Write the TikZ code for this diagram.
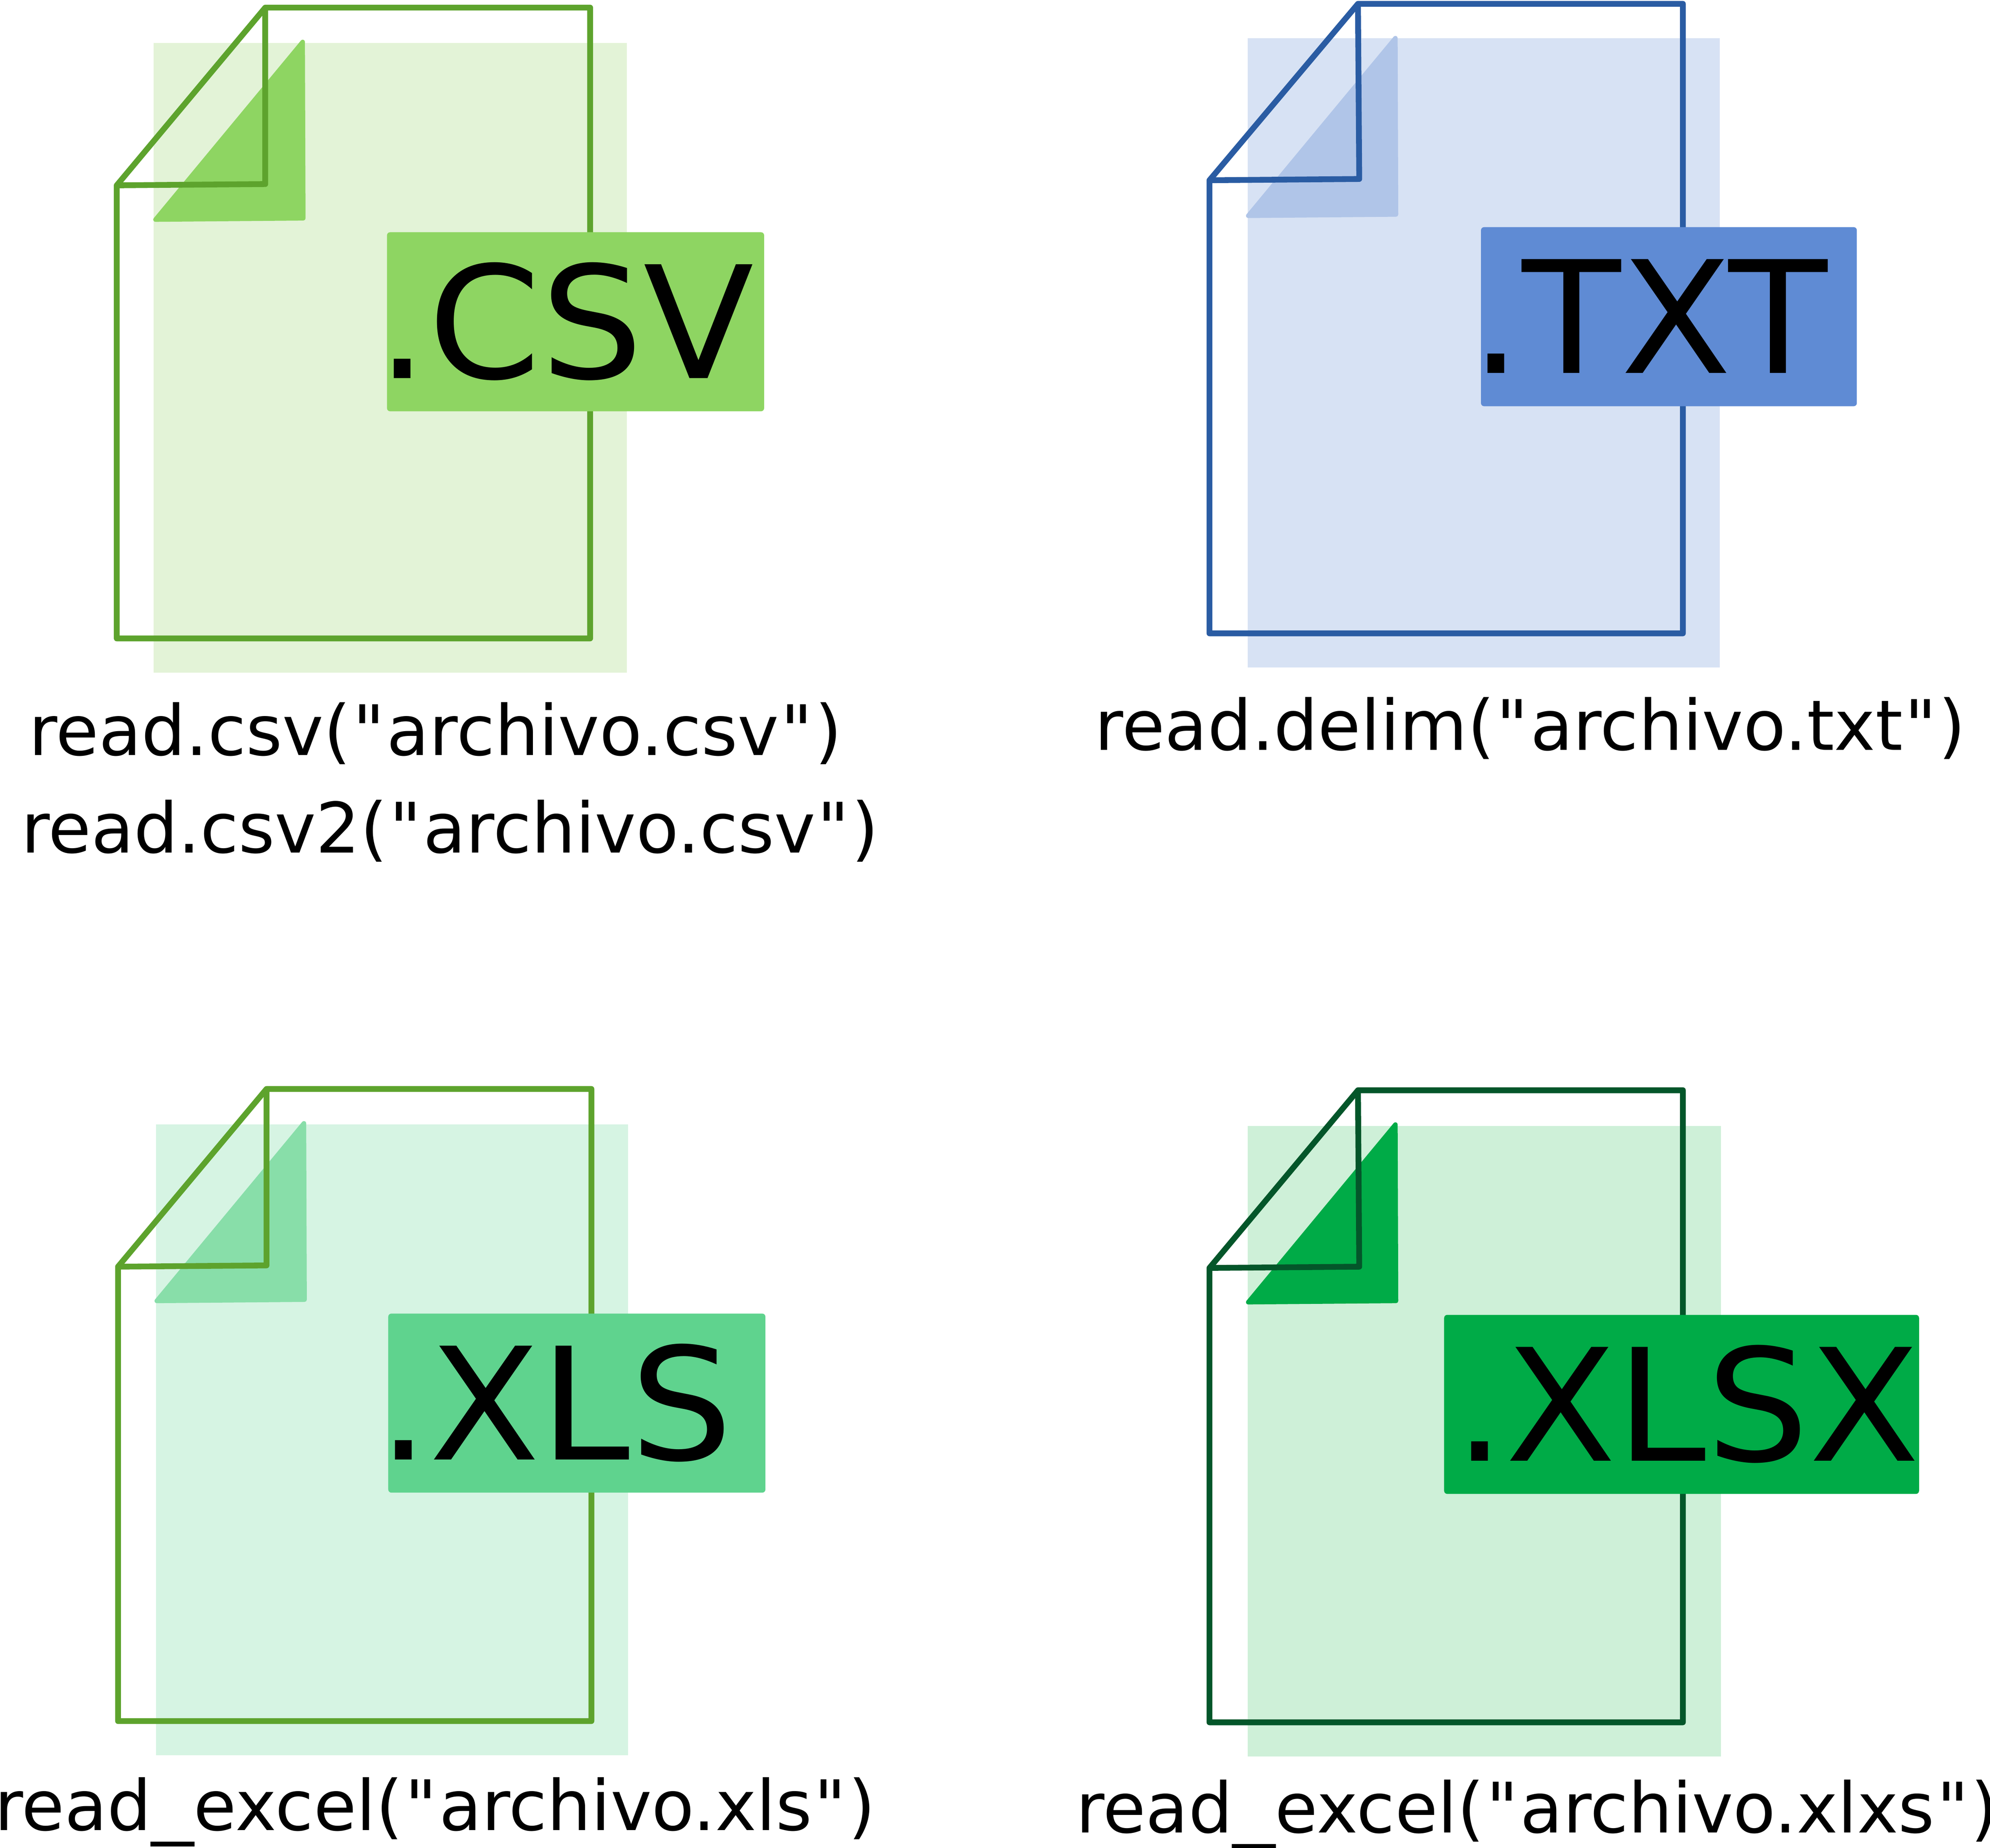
\documentclass[tikz,border=0pt]{standalone}
\usepackage{fontspec}
\setmainfont{DejaVu Sans}[Ligatures=TeXOff]
\newfontfamily\tagfont{DejaVu Sans}[FakeStretch=1.035]
\newcommand{\qmark}{\kern0.45pt"\kern0.45pt}
\newcommand{\wideunder}{\scalebox{1.22}[1]{\_}}
\definecolor{csvline}{HTML}{5DA32D}
\definecolor{csvtag}{HTML}{8ED562}
\definecolor{csvback}{HTML}{E3F3D7}
\definecolor{txtline}{HTML}{2A5CA3}
\definecolor{txttag}{HTML}{5F8BD4}
\definecolor{txtback}{HTML}{D7E2F4}
\definecolor{txtfold}{HTML}{B0C5E8}
\definecolor{xlstag}{HTML}{5FD38E}
\definecolor{xlsback}{HTML}{D6F4E3}
\definecolor{xlsfold}{HTML}{88DEA9}
\definecolor{xlsxline}{HTML}{04562A}
\definecolor{xlsxtag}{HTML}{00AB47}
\definecolor{xlsxback}{HTML}{CEF0D8}
\tikzset{
%%%%%%%%%%  File shapes
file_outline/.style={line width=1.3pt, line join=round, draw=#1},
file_back/.style={fill=#1},
file_fold/.style={fill=#1, draw=#1, line width=1pt, line join=round},
%%%%%%%%%%  Node styles
tag_box/.style={fill=#1, rounded corners=0.7pt, inner sep=0pt, minimum height=1.41cm},
tag_text/.style={anchor=base west, inner sep=0pt, font=\tagfont\fontsize{35}{35}\selectfont},
read_call/.style={anchor=base west, inner sep=0pt, font=\fontsize{15.6}{15.6}\selectfont}
}

\begin{document}
\begin{tikzpicture}[x=0.01cm, y=-0.01cm]
\useasboundingbox (0,0) rectangle (1568,1456);
%% csv
\begin{scope}
  \fill[file_back=csvback] (121,34) rectangle (494,530);
  \filldraw[file_fold=csvtag] (122.5,173) -- (238.5,33) -- (239,172) -- cycle;
  \draw[file_outline=csvline] (92,146) -- (209,6) -- (465,6) -- (465,503) -- (92,503) -- cycle;
  \draw[file_outline=csvline] (209,6) -- (209,145) -- (92,146);
  \node[tag_box=csvtag, minimum width=2.97cm] (csv_tag) at (453.5,253.5) {};
  \node[tag_text] (csv_ext) at (296,298) {.CSV};
\end{scope}
\node[read_call] (csv_read) at (22,595) {read.csv(\qmark archivo.csv\qmark)};
\node[read_call] (csv_readb) at (16,672) {read.csv2(\qmark archivo.csv\qmark)};
%% txt
\begin{scope}[shift={(861,-3)}]
  \fill[file_back=txtback] (122,33) rectangle (494,529);
  \filldraw[file_fold=txtfold] (122.5,173) -- (238.5,33) -- (239,172) -- cycle;
  \draw[file_outline=txtline] (92,145) -- (209,6) -- (465,6) -- (465,502) -- (92,502) -- cycle;
  \draw[file_outline=txtline] (209,6) -- (210,144) -- (92,145);
\end{scope}
\node[tag_box=txttag, minimum width=2.96cm] (txt_tag) at (1315,249.5) {};
\node[tag_text] (txt_ext) at (1158,294) {.TXT};
\node[read_call] (txt_read) at (862,591) {read.delim(\qmark archivo.txt\qmark)};
%% xls
\begin{scope}[shift={(1,852)}]
  \fill[file_back=xlsback] (122,34) rectangle (494,531);
  \filldraw[file_fold=xlsfold] (122.5,173) -- (238.5,33) -- (239,172) -- cycle;
  \draw[file_outline=csvline] (92,146) -- (209,6) -- (465,6) -- (465,504) -- (92,504) -- cycle;
  \draw[file_outline=csvline] (209,6) -- (209,145) -- (92,146);
  \node[tag_box=xlstag, minimum width=2.97cm] (xls_tag) at (453.5,253.5) {};
  \node[tag_text] (xls_ext) at (296,298) {.XLS};
\end{scope}
\node[read_call] (xls_read) at (-5,1442) {read\wideunder excel(\qmark archivo.xls\qmark)};
%% xlsx
\begin{scope}[shift={(861,853)}]
  \fill[file_back=xlsxback] (122,34) rectangle (495,531);
  \filldraw[file_fold=xlsxtag] (122.5,173) -- (238.5,33) -- (239,172) -- cycle;
  \draw[file_outline=xlsxline] (92,146) -- (209,6) -- (465,6) -- (465,504) -- (92,504) -- cycle;
  \draw[file_outline=xlsxline] (209,6) -- (210,145) -- (92,146);
\end{scope}
\node[tag_box=xlsxtag, minimum width=3.74cm] (xlsx_tag) at (1325,1106.5) {};
\node[tag_text] (xlsx_ext) at (1145,1151) {.XLSX};
\node[read_call] (xlsx_read) at (847,1444) {read\wideunder excel(\qmark archivo.xlxs\qmark)};
\end{tikzpicture}
\end{document}
